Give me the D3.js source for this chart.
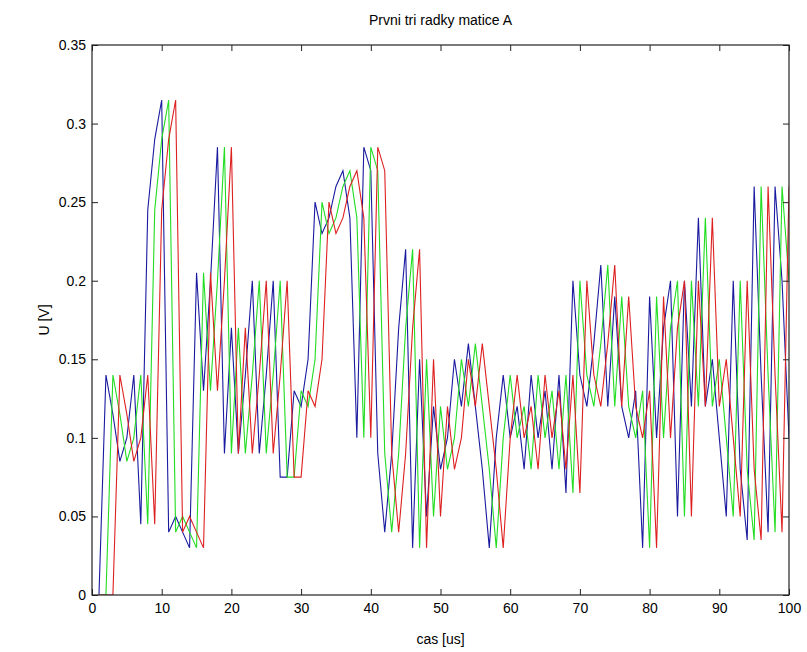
<!DOCTYPE html>
<html>
<head>
<meta charset="utf-8">
<script src="https://cdn.jsdelivr.net/npm/d3@7"></script>
<style>
  body { margin: 0; background: #fff; }
  text { font-family: "Liberation Sans", Arial, sans-serif; fill: #000; }
</style>
</head>
<body>
<div id="chart"></div>
<script>
// first three rows of matrix A (each row is the previous one delayed by one sample)
const row1 = [0, 0.14, 0.115, 0.085, 0.1, 0.14, 0.045, 0.245, 0.29, 0.315,
  0.04, 0.05, 0.04, 0.03, 0.205, 0.13, 0.2, 0.285, 0.09, 0.17,
  0.09, 0.14, 0.2, 0.09, 0.14, 0.2, 0.075, 0.075, 0.13, 0.12,
  0.15, 0.25, 0.23, 0.24, 0.26, 0.27, 0.24, 0.1, 0.285, 0.27,
  0.09, 0.04, 0.09, 0.17, 0.22, 0.03, 0.15, 0.05, 0.12, 0.08,
  0.1, 0.15, 0.12, 0.16, 0.12, 0.08, 0.03, 0.1, 0.14, 0.1,
  0.12, 0.08, 0.14, 0.1, 0.13, 0.08, 0.14, 0.065, 0.2, 0.14,
  0.12, 0.16, 0.21, 0.12, 0.19, 0.12, 0.1, 0.13, 0.03, 0.19,
  0.1, 0.17, 0.2, 0.05, 0.2, 0.12, 0.24, 0.12, 0.15, 0.1,
  0.05, 0.2, 0.08, 0.035, 0.26, 0.14, 0.04, 0.26, 0.2, 0.1];

const row2 = [0, 0, 0.14, 0.115, 0.085, 0.1, 0.14, 0.045, 0.245, 0.29,
  0.315, 0.04, 0.05, 0.04, 0.03, 0.205, 0.13, 0.2, 0.285, 0.09,
  0.17, 0.09, 0.14, 0.2, 0.09, 0.14, 0.2, 0.075, 0.075, 0.13,
  0.12, 0.15, 0.25, 0.23, 0.24, 0.26, 0.27, 0.24, 0.1, 0.285,
  0.27, 0.09, 0.04, 0.09, 0.17, 0.22, 0.03, 0.15, 0.05, 0.12,
  0.08, 0.1, 0.15, 0.12, 0.16, 0.12, 0.08, 0.03, 0.1, 0.14,
  0.1, 0.12, 0.08, 0.14, 0.1, 0.13, 0.08, 0.14, 0.065, 0.2,
  0.14, 0.12, 0.16, 0.21, 0.12, 0.19, 0.12, 0.1, 0.13, 0.03,
  0.19, 0.1, 0.17, 0.2, 0.05, 0.2, 0.12, 0.24, 0.12, 0.15,
  0.1, 0.05, 0.2, 0.08, 0.035, 0.26, 0.14, 0.04, 0.26, 0.2];

const row3 = [0, 0, 0, 0.14, 0.115, 0.085, 0.1, 0.14, 0.045, 0.245,
  0.29, 0.315, 0.04, 0.05, 0.04, 0.03, 0.205, 0.13, 0.2, 0.285,
  0.09, 0.17, 0.09, 0.14, 0.2, 0.09, 0.14, 0.2, 0.075, 0.075,
  0.13, 0.12, 0.15, 0.25, 0.23, 0.24, 0.26, 0.27, 0.24, 0.1,
  0.285, 0.27, 0.09, 0.04, 0.09, 0.17, 0.22, 0.03, 0.15, 0.05,
  0.12, 0.08, 0.1, 0.15, 0.12, 0.16, 0.12, 0.08, 0.03, 0.1,
  0.14, 0.1, 0.12, 0.08, 0.14, 0.1, 0.13, 0.08, 0.14, 0.065,
  0.2, 0.14, 0.12, 0.16, 0.21, 0.12, 0.19, 0.12, 0.1, 0.13,
  0.03, 0.19, 0.1, 0.17, 0.2, 0.05, 0.2, 0.12, 0.24, 0.12,
  0.15, 0.1, 0.05, 0.2, 0.08, 0.035, 0.26, 0.14, 0.04, 0.26];

const xTicks = [0, 10, 20, 30, 40, 50, 60, 70, 80, 90, 100];
const yTicks = [0, 0.05, 0.1, 0.15, 0.2, 0.25, 0.3, 0.35];
const rowColors = ["#1a1aa0", "#22dd22", "#dd2020"];

const W = 807, H = 652;
const margin = {top: 45, right: 18, bottom: 57, left: 92};
const width = W - margin.left - margin.right;
const height = H - margin.top - margin.bottom;

const svg = d3.select("#chart")
  .append("svg")
  .attr("width", W)
  .attr("height", H);

const chart = svg.append("g")
  .attr("transform", `translate(${margin.left},${margin.top})`);

const xScale = d3.scaleLinear().domain([0, 100]).range([0, width]);
const yScale = d3.scaleLinear().domain([0, 0.35]).range([height, 0]);

// lines (sample k of each row sits at time k+1)
const line = d3.line()
  .x((d, i) => xScale(i + 1))
  .y(d => yScale(d));

chart.append("clipPath").attr("id", "clip")
  .append("rect").attr("width", width).attr("height", height);

chart.append("g").attr("clip-path", "url(#clip)")
  .selectAll("path")
  .data([row1, row2, row3])
  .join("path")
  .attr("fill", "none")
  .attr("stroke", (d, i) => rowColors[i])
  .attr("stroke-width", 1.1)
  .attr("d", line);

// axes, MATLAB style: ticks inside on all four sides
const tickLen = 6;
const fmt = d => String(d);

chart.append("g")
  .attr("transform", `translate(0,${height})`)
  .call(d3.axisBottom(xScale).tickValues(xTicks).tickSize(-tickLen).tickPadding(8).tickFormat(fmt))
  .call(g => g.select(".domain").remove());

chart.append("g")
  .call(d3.axisTop(xScale).tickValues(xTicks).tickSize(-tickLen).tickFormat(""))
  .call(g => g.select(".domain").remove());

chart.append("g")
  .call(d3.axisLeft(yScale).tickValues(yTicks).tickSize(-tickLen).tickPadding(6).tickFormat(fmt))
  .call(g => g.select(".domain").remove());

chart.append("g")
  .attr("transform", `translate(${width},0)`)
  .call(d3.axisRight(yScale).tickValues(yTicks).tickSize(-tickLen).tickFormat(""))
  .call(g => g.select(".domain").remove());

chart.selectAll(".tick line").attr("stroke", "#222");
chart.selectAll(".tick text")
  .attr("font-size", 14)
  .style("font-family", "'Liberation Sans', Arial, sans-serif");

chart.append("rect")
  .attr("width", width)
  .attr("height", height)
  .attr("fill", "none")
  .attr("stroke", "#222")
  .attr("stroke-width", 1.2);

// titles
svg.append("text")
  .attr("x", margin.left + width / 2)
  .attr("y", 25)
  .attr("text-anchor", "middle")
  .attr("font-size", 14)
  .text("Prvni tri radky matice A");

svg.append("text")
  .attr("x", margin.left + width / 2)
  .attr("y", H - 8)
  .attr("text-anchor", "middle")
  .attr("font-size", 14)
  .text("cas [us]");

svg.append("text")
  .attr("transform", `translate(49,${margin.top + height / 2}) rotate(-90)`)
  .attr("text-anchor", "middle")
  .attr("font-size", 14)
  .text("U [V]");
</script>
</body>
</html>
